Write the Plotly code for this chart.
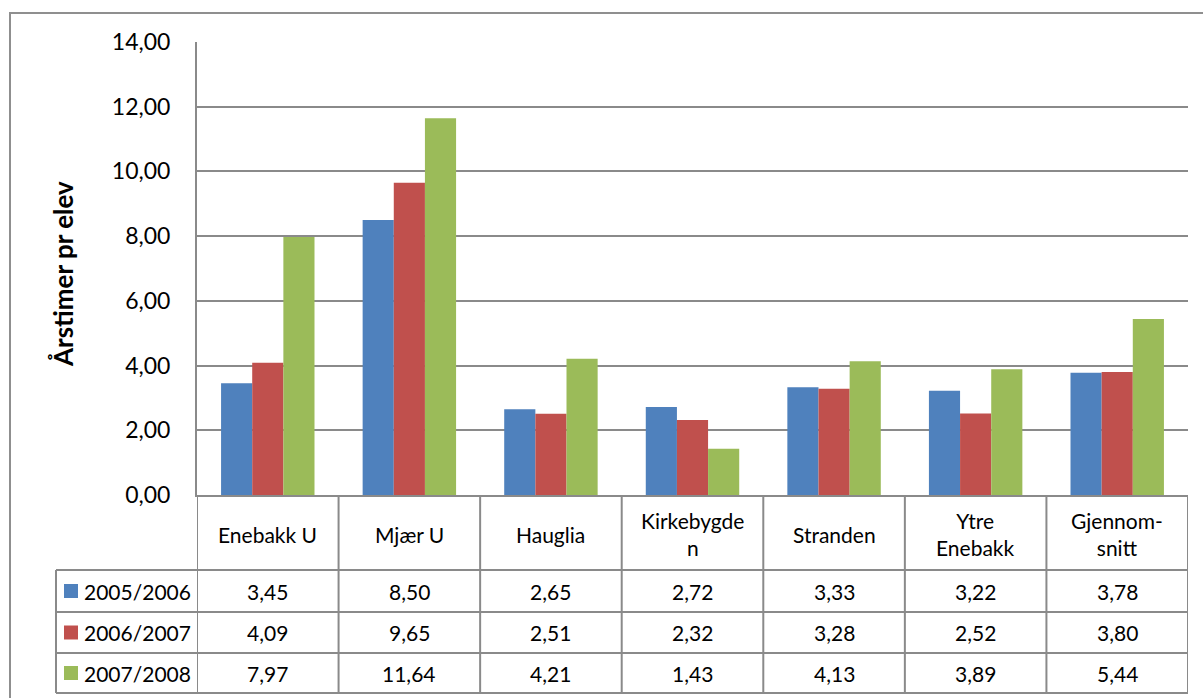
import plotly.graph_objects as go

categories = ["Enebakk U", "Mjær U", "Hauglia", "Kirkebygden", "Stranden", "Ytre Enebakk", "Gjennomsnitt"]
category_labels = ["Enebakk U", "Mjær U", "Hauglia", "Kirkebygde<br>n", "Stranden", "Ytre<br>Enebakk", "Gjennom-<br>snitt"]
series_names = ["2005/2006", "2006/2007", "2007/2008"]
v_2005_2006 = [3.45, 8.50, 2.65, 2.72, 3.33, 3.22, 3.78]
v_2006_2007 = [4.09, 9.65, 2.51, 2.32, 3.28, 2.52, 3.80]
v_2007_2008 = [7.97, 11.64, 4.21, 1.43, 4.13, 3.89, 5.44]
series_values = [v_2005_2006, v_2006_2007, v_2007_2008]
colors = ["#4F81BD", "#C0504D", "#9BBB59"]
y_title = "Årstimer pr elev"

W, H = 1203, 698
FONT = "Lato"
GRID = "#8a8a8a"

def px(x):
    return x / W

def py(y):
    return 1 - y / H

plot_left, plot_right, plot_top, plot_bottom = 197, 1188, 42, 495
legend_left = 56
row_lines = [570, 612, 653, 693]

fig = go.Figure()
for name, vals, col in zip(series_names, series_values, colors):
    fig.add_trace(go.Bar(name=name, x=categories, y=vals, marker_color=col,
                         marker_line_width=0, showlegend=False))

shapes = []
# outer border
shapes.append(dict(type="rect", xref="paper", yref="paper", x0=px(10), x1=px(1240),
                   y0=py(760), y1=py(13), line=dict(color="#8f8f8f", width=2)))
# table horizontal lines
for yl in row_lines:
    shapes.append(dict(type="line", xref="paper", yref="paper", x0=px(legend_left), x1=px(plot_right),
                       y0=py(yl), y1=py(yl), line=dict(color=GRID, width=2)))
# vertical lines for category columns
ncat = len(categories)
for i in range(ncat + 1):
    shapes.append(dict(type="line", xref="x", yref="paper", x0=i - 0.5, x1=i - 0.5,
                       y0=py(row_lines[-1]), y1=py(plot_bottom), line=dict(color=GRID, width=2)))
# legend column left edge
shapes.append(dict(type="line", xref="paper", yref="paper", x0=px(legend_left), x1=px(legend_left),
                   y0=py(row_lines[-1]), y1=py(row_lines[0]), line=dict(color=GRID, width=2)))

TFS = 21
annotations = []
for cat, lab in zip(categories, category_labels):
    annotations.append(dict(x=cat, xref="x", y=py(534), yref="paper",
                            text=lab, showarrow=False, font=dict(family=FONT, size=TFS, color="#000"),
                            xanchor="center", yanchor="middle"))
for r, (name, vals, col) in enumerate(zip(series_names, series_values, colors)):
    yc = (row_lines[r] + row_lines[r + 1]) / 2
    shapes.append(dict(type="rect", xref="paper", yref="paper", x0=px(64), x1=px(78),
                       y0=py(yc + 7), y1=py(yc - 7), fillcolor=col, line=dict(width=0)))
    annotations.append(dict(x=px(82), xref="paper", y=py(yc), yref="paper", text=name,
                            showarrow=False, xanchor="left", yanchor="middle",
                            font=dict(family=FONT, size=TFS, color="#000")))
    for cat, v in zip(categories, vals):
        annotations.append(dict(x=cat, xref="x", y=py(yc), yref="paper",
                                text=f"{v:.2f}".replace(".", ","), showarrow=False,
                                xanchor="center", yanchor="middle",
                                font=dict(family=FONT, size=TFS, color="#000")))
annotations.append(dict(x=px(63), xref="paper", y=py(274), yref="paper", text=f"<b>{y_title}</b>",
                        textangle=-90, showarrow=False, xanchor="center", yanchor="middle",
                        font=dict(family=FONT, size=26, color="#000")))

fig.update_layout(
    width=W, height=H,
    margin=dict(l=0, r=0, t=0, b=0),
    paper_bgcolor="white", plot_bgcolor="white",
    barmode="group", bargap=0.34, bargroupgap=0,
    separators=", ",
    font=dict(family=FONT, color="#000"),
    xaxis=dict(domain=[px(plot_left), px(plot_right)], type="category", automargin=False,
               range=[-0.5, ncat - 0.5], showticklabels=False, ticks="",
               showgrid=False, showline=True, linecolor=GRID, linewidth=2, zeroline=False),
    yaxis=dict(domain=[py(plot_bottom), py(plot_top)], range=[0, 14], dtick=2, automargin=False,
               tickformat=".2f", showgrid=True, gridcolor=GRID, gridwidth=2,
               showline=True, linecolor=GRID, linewidth=2, zeroline=False,
               ticks="", ticklabelstandoff=20,
               tickfont=dict(family=FONT, size=23, color="#000")),
    shapes=shapes, annotations=annotations,
)

fig.write_html("out.html", config={"displayModeBar": False},
               post_script="document.body.style.margin='0px';document.body.style.padding='0px';")
